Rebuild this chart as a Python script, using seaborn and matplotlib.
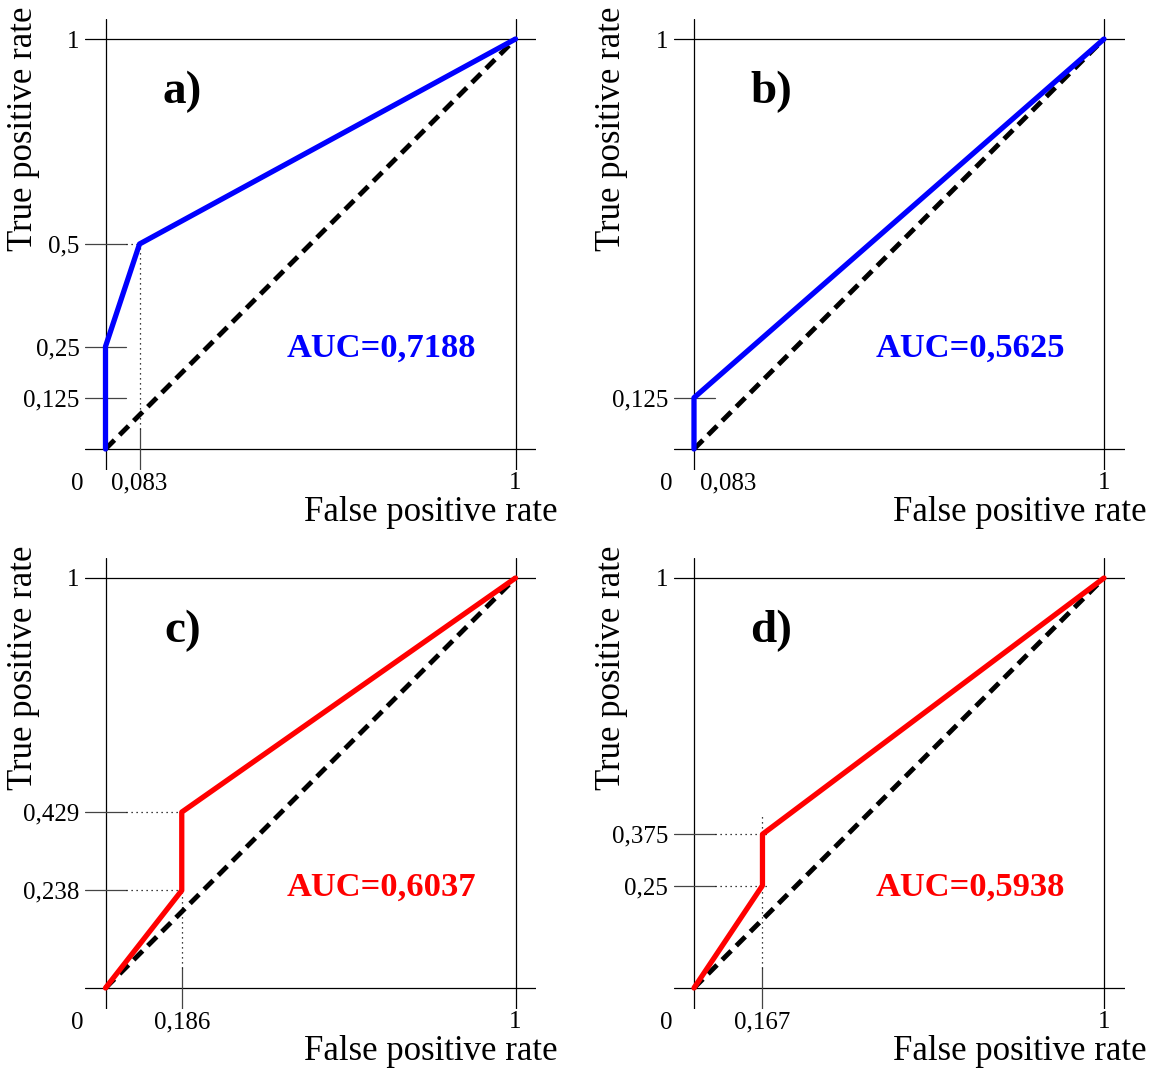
import numpy as np
import pandas as pd
import matplotlib
matplotlib.use("Agg")
import matplotlib.pyplot as plt
import seaborn as sns

# ROC points per panel
panel_names = ["a)", "b)", "c)", "d)"]
fpr_a = [0, 0, 0.083, 1]
tpr_a = [0, 0.25, 0.5, 1]
fpr_b = [0, 0, 1]
tpr_b = [0, 0.125, 1]
fpr_c = [0, 0.186, 0.186, 1]
tpr_c = [0, 0.238, 0.429, 1]
fpr_d = [0, 0.167, 0.167, 1]
tpr_d = [0, 0.25, 0.375, 1]
auc_values = ["0,7188", "0,5625", "0,6037", "0,5938"]
curve_colors = ["#0000ff", "#0000ff", "#ff0000", "#ff0000"]

# tick values / labels
xticks_a = [0.083, 1]
xticks_b = [0.083, 1]
xticks_c = [0.186, 1]
xticks_d = [0.167, 1]
xlabels_a = ["0,083", "1"]
xlabels_b = ["0,083", "1"]
xlabels_c = ["0,186", "1"]
xlabels_d = ["0,167", "1"]
yticks_a = [0.125, 0.25, 0.5, 1]
yticks_b = [0.125, 1]
yticks_c = [0.238, 0.429, 1]
yticks_d = [0.25, 0.375, 1]
ylabels_a = ["0,125", "0,25", "0,5", "1"]
ylabels_b = ["0,125", "1"]
ylabels_c = ["0,238", "0,429", "1"]
ylabels_d = ["0,25", "0,375", "1"]

# which ticks get a little crossing mark
xmarks = [[0.083], [], [0.186], [0.167]]
ymarks = [[0.125, 0.25, 0.5], [0.125], [0.238, 0.429], [0.25, 0.375]]

# dotted guides: (y, x_end) horizontals and (x, y_end) verticals
hguides = [[(0.5, 0.083)], [], [(0.429, 0.186), (0.238, 0.186)], [(0.375, 0.185), (0.25, 0.185)]]
vguides = [[(0.083, 0.5)], [], [(0.186, 0.238)], [(0.167, 0.42)]]

sns.set_theme(style="white")
plt.rcParams["font.family"] = ["Liberation Serif", "DejaVu Serif"]
plt.rcParams["text.color"] = "black"
plt.rcParams["axes.labelcolor"] = "black"
plt.rcParams["xtick.color"] = "black"
plt.rcParams["ytick.color"] = "black"

fig = plt.figure(figsize=(11.57, 10.68), dpi=100)

rects = [
    [85 / 1157, 1 - 469.5 / 1068, 451 / 1157, 451 / 1068],
    [673.5 / 1157, 1 - 469.5 / 1068, 451 / 1157, 451 / 1068],
    [85 / 1157, 1 - 1008.5 / 1068, 451 / 1157, 451 / 1068],
    [673.5 / 1157, 1 - 1008.5 / 1068, 451 / 1157, 451 / 1068],
]

curves = [(fpr_a, tpr_a), (fpr_b, tpr_b), (fpr_c, tpr_c), (fpr_d, tpr_d)]
xt = [xticks_a, xticks_b, xticks_c, xticks_d]
xl = [xlabels_a, xlabels_b, xlabels_c, xlabels_d]
yt = [yticks_a, yticks_b, yticks_c, yticks_d]
yl = [ylabels_a, ylabels_b, ylabels_c, ylabels_d]

for i in range(4):
    ax = fig.add_axes(rects[i])
    ax.set_xlim(-0.05, 1.05)
    ax.set_ylim(-0.05, 1.05)
    for s in ax.spines.values():
        s.set_visible(False)

    # frame lines crossing at the corners
    for v in [0, 1]:
        ax.axhline(v, color="black", lw=0.9, zorder=1)
        ax.axvline(v, color="black", lw=0.9, zorder=1)

    for m in xmarks[i]:
        ax.plot([m, m], [-0.05, 0.05], color="#444444", lw=0.9, zorder=1)
    for m in ymarks[i]:
        ax.plot([-0.05, 0.05], [m, m], color="#444444", lw=0.9, zorder=1)

    for y, xe in hguides[i]:
        ax.plot([0.05, xe], [y, y], color="black", lw=0.9, ls=(0, (1, 3)), zorder=1)
    for x, ye in vguides[i]:
        ax.plot([x, x], [0.05, ye], color="black", lw=0.9, ls=(0, (1, 3)), zorder=1)

    diag = pd.DataFrame({"x": [0, 1], "y": [0, 1]})
    sns.lineplot(data=diag, x="x", y="y", ax=ax, color="black", lw=3.5,
                 dashes=False, zorder=3)
    ax.lines[-1].set_dashes((2.6, 1.5))

    df = pd.DataFrame({"x": curves[i][0], "y": curves[i][1]})
    sns.lineplot(data=df, x="x", y="y", ax=ax, color=curve_colors[i], lw=3.8,
                 sort=False, estimator=None, zorder=4)

    ax.set_xticks(xt[i])
    ax.set_xticklabels(xl[i])
    ax.set_yticks(yt[i])
    ax.set_yticklabels(yl[i])
    ax.tick_params(length=0, labelsize=18, colors="black")
    ax.tick_params(axis="x", pad=2)
    ax.tick_params(axis="y", pad=4)

    ax.text(-0.068, -0.085, "0", fontsize=18, ha="center", va="center")

    ax.set_xlabel("False positive rate", fontsize=25)
    ax.xaxis.set_label_coords(0.767, -0.095)
    ax.xaxis.label.set_verticalalignment("center")
    ax.set_ylabel("True positive rate", fontsize=25)
    ax.yaxis.set_label_coords(-0.137, 0.755)
    ax.yaxis.label.set_verticalalignment("center")

    ax.text(0.188, 0.844, panel_names[i], fontsize=34, fontweight="bold",
            ha="center", va="baseline")
    ax.text(0.673, 0.224, "AUC=" + auc_values[i], fontsize=24.8, fontweight="bold",
            color=curve_colors[i], ha="center", va="baseline")

fig.savefig("out.png", dpi=100)
